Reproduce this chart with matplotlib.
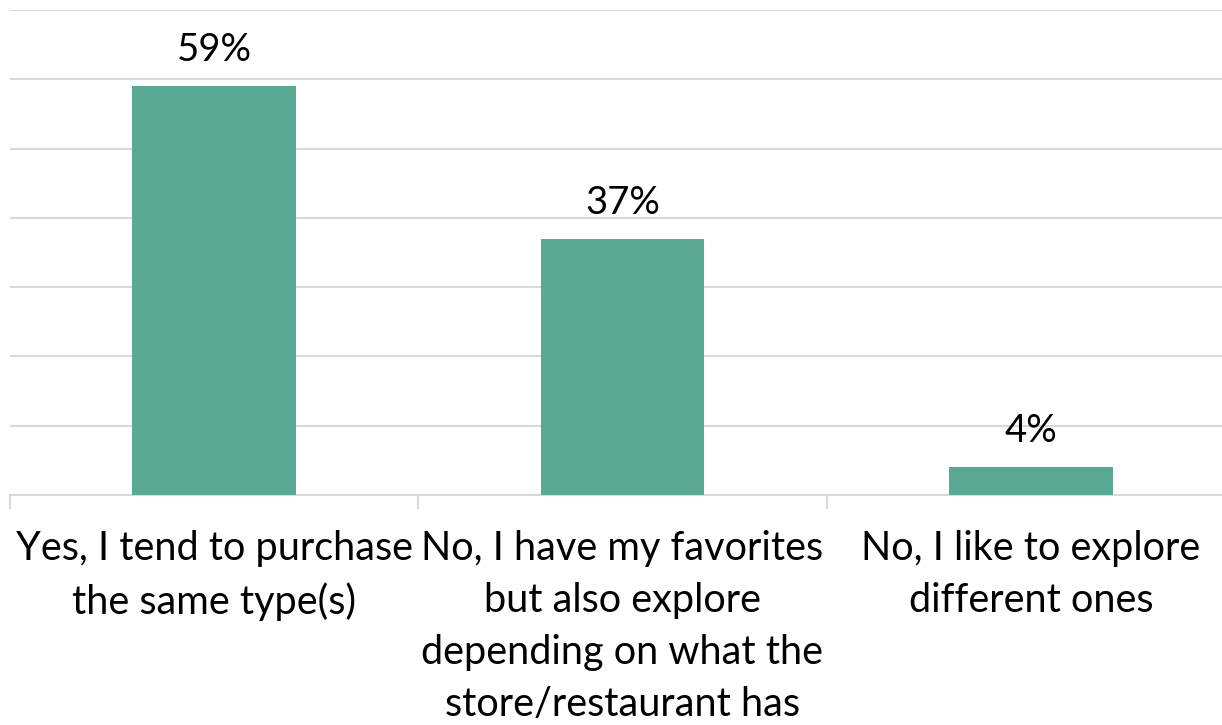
#!/usr/bin/env python

import matplotlib
matplotlib.use('Agg')
import matplotlib.pyplot as plt

CATEGORIES = ['Yes, I tend to purchase\nthe same type(s)',
              'No, I have my favorites\nbut also explore\ndepending on what the\nstore/restaurant has',
              'No, I like to explore\ndifferent ones']
SHARES = [59, 37, 4]
LABELS = ['59%', '37%', '4%']

BAR_COLOR = '#59AA93'
GRID_COLOR = '#D9D9D9'
FONT = 'Lato'

W, H = 1222, 725
fig = plt.figure(figsize=(W / 100, H / 100), dpi=100)
ax = fig.add_axes([10 / W, 230 / H, 1225 / W, 485 / H])

x = list(range(len(SHARES)))
ax.bar(x, SHARES, width=0.40, color=BAR_COLOR, zorder=3)
for xi, v, lab in zip(x, SHARES, LABELS):
    ax.annotate(lab, (xi, v), xytext=(0, 18), textcoords='offset pixels',
                ha='center', va='bottom', fontsize=27.5, family=FONT, zorder=4)

ax.set_xlim(-0.5, 2.5)
ax.set_ylim(0, 70)
ax.set_yticks(range(0, 71, 10))
ax.yaxis.grid(True, color=GRID_COLOR, linewidth=1.5, zorder=0)
ax.tick_params(axis='y', left=False, labelleft=False)

ax.set_xticks([-0.5, 0.5, 1.5, 2.5], minor=False)
ax.set_xticklabels([])
ax.set_xticks(x, minor=True)
ax.set_xticklabels(CATEGORIES, minor=True, fontsize=28.5, family=FONT,
                   linespacing=1.5, va='top')
ax.tick_params(axis='x', which='major', length=10, width=1.5, color=GRID_COLOR)
ax.tick_params(axis='x', which='minor', length=0, pad=25)

for s in ['top', 'right', 'left']:
    ax.spines[s].set_visible(False)
ax.spines['bottom'].set_color(GRID_COLOR)
ax.spines['bottom'].set_linewidth(1.5)

fig.savefig('out.png', dpi=100)
